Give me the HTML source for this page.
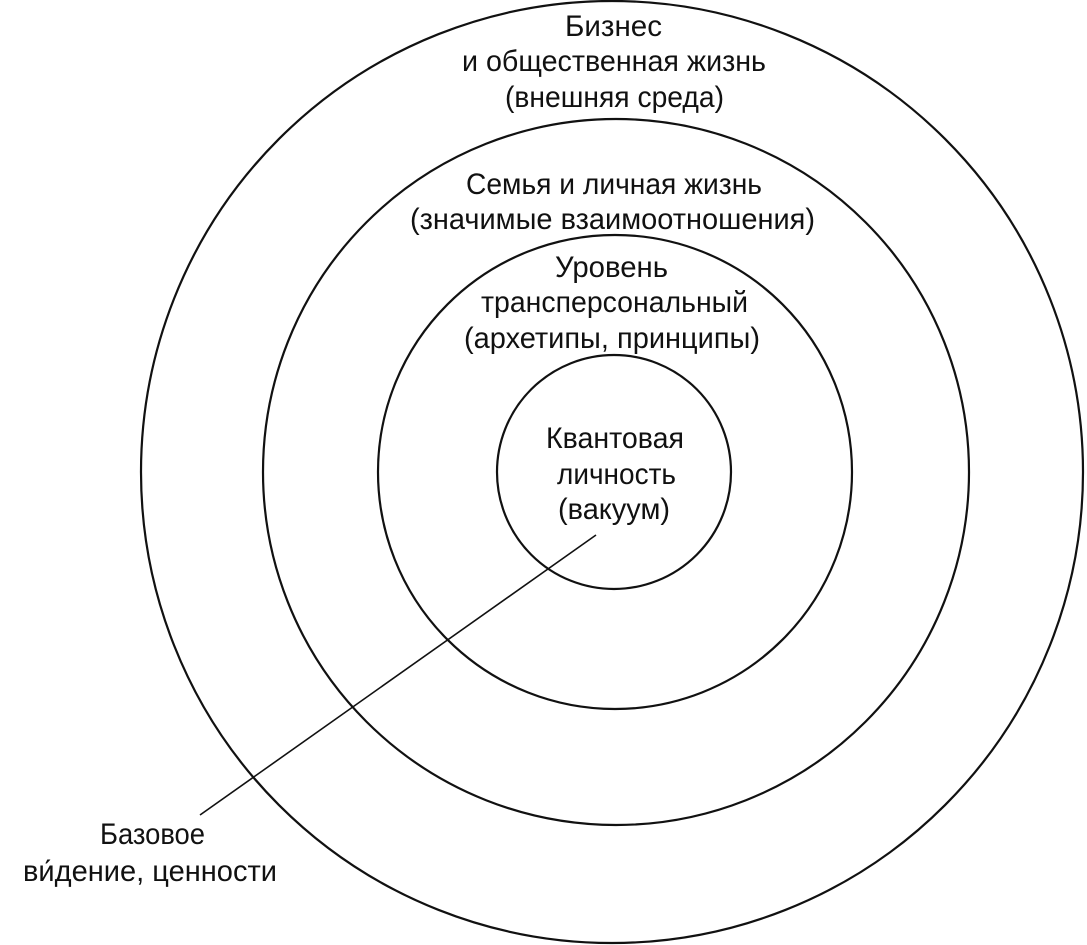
<!DOCTYPE html>
<html><head><meta charset="utf-8">
<style>
html,body{margin:0;padding:0;background:#fff;}
svg{display:block;}
text{font-family:"Liberation Sans Narrow","Liberation Sans",sans-serif;font-size:30px;fill:#111;}
</style></head><body>
<svg width="1087" height="945" viewBox="0 0 1087 945">
<g fill="none" stroke="#111" stroke-width="2.2">
<circle cx="612" cy="472" r="471"/>
<circle cx="616" cy="472" r="353"/>
<circle cx="615" cy="472" r="237"/>
<circle cx="614" cy="472" r="117"/>
<line x1="596" y1="535" x2="200" y2="815" stroke-width="1.6"/>
</g>
<text x="565" y="36" textLength="97" lengthAdjust="spacingAndGlyphs">Бизнес</text>
<text x="462" y="71" textLength="304" lengthAdjust="spacingAndGlyphs">и общественная жизнь</text>
<text x="505" y="107" textLength="219" lengthAdjust="spacingAndGlyphs">(внешняя среда)</text>
<text x="466" y="194" textLength="296" lengthAdjust="spacingAndGlyphs">Семья и личная жизнь</text>
<text x="410" y="229" textLength="405" lengthAdjust="spacingAndGlyphs">(значимые взаимоотношения)</text>
<text x="555" y="277" textLength="113" lengthAdjust="spacingAndGlyphs">Уровень</text>
<text x="481" y="312" textLength="267" lengthAdjust="spacingAndGlyphs">трансперсональный</text>
<text x="464" y="348" textLength="296" lengthAdjust="spacingAndGlyphs">(архетипы, принципы)</text>
<text x="546" y="448" textLength="138" lengthAdjust="spacingAndGlyphs">Квантовая</text>
<text x="557" y="484" textLength="119" lengthAdjust="spacingAndGlyphs">личность</text>
<text x="558" y="519" textLength="112" lengthAdjust="spacingAndGlyphs">(вакуум)</text>
<text x="100" y="844" textLength="105" lengthAdjust="spacingAndGlyphs">Базовое</text>
<text x="23" y="881" textLength="254" lengthAdjust="spacingAndGlyphs">ви́дение, ценности</text>
</svg>
</body></html>
